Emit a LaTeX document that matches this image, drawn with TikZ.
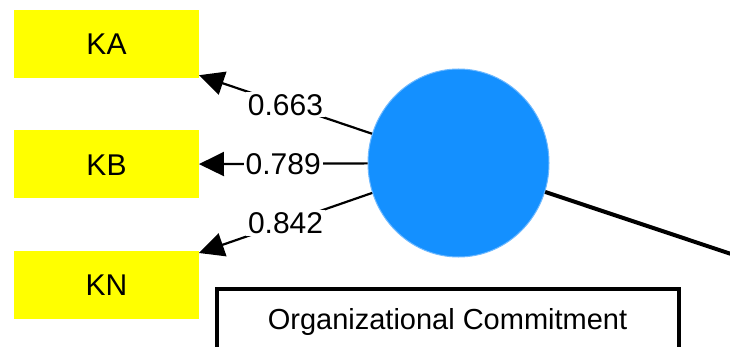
\documentclass[tikz,border=0pt]{standalone}
\usepackage{fontspec}
\setmainfont{Liberation Sans}
\usetikzlibrary{shapes.geometric,arrows.meta}
\definecolor{indyellow}{RGB}{255,255,0}
\definecolor{latentblue}{RGB}{20,144,255}
\definecolor{latentedge}{RGB}{110,185,255}
\tikzset{
  indicator/.style={rectangle, fill=indyellow, minimum width=184.5pt, minimum height=68pt,
    inner sep=0pt, text height=21.5pt, text depth=0pt, font=\fontsize{30}{36}\selectfont},
  latent/.style={ellipse, fill=latentblue, draw=latentedge, line width=1pt,
    minimum width=181pt, minimum height=188pt, inner sep=0pt},
  loading/.style={line width=2.2pt, -{Triangle[length=25pt,width=24pt]}},
  weight/.style={fill=white, inner sep=2pt, font=\fontsize{30}{36}\selectfont,
    text height=21.5pt, text depth=0pt},
  pathline/.style={line width=4pt},
  namebox/.style={rectangle, draw, line width=4pt, minimum width=462pt, minimum height=110pt, inner sep=0pt},
  nametext/.style={font=\fontsize{29}{35}\selectfont, text height=20.5pt, text depth=0pt, inner sep=0pt}
}
\begin{document}
\begin{tikzpicture}[x=1pt,y=-1pt]
  \useasboundingbox (0,0) rectangle (730,347);
  \clip (0,0) rectangle (730,347);
  \fill[white] (0,0) rectangle (730,347);

  % indicator boxes
  \node[indicator] (ka) at (106.5,44) {KA};
  \node[indicator] (kb) at (106.5,164.5) {KB};
  \node[indicator] (kn) at (106.5,285) {KN};

  % latent construct
  \node[latent] (oc) at (458.5,163) {};

  % structural path leaving to the right
  \coordinate (far) at (800,277);
  \draw[pathline] (oc) -- (far);

  % outer loadings
  \draw[loading] (oc) -- node[weight] {0.663} (ka);
  \draw[loading] (oc) -- node[weight] {0.789} (kb);
  \draw[loading] (oc) -- node[weight] {0.842} (kn);

  % construct name
  \node[namebox, anchor=north] (ocbox) at (448,287) {};
  \node[nametext] (oclabel) at (447.5,319) {Organizational Commitment};
\end{tikzpicture}
\end{document}
